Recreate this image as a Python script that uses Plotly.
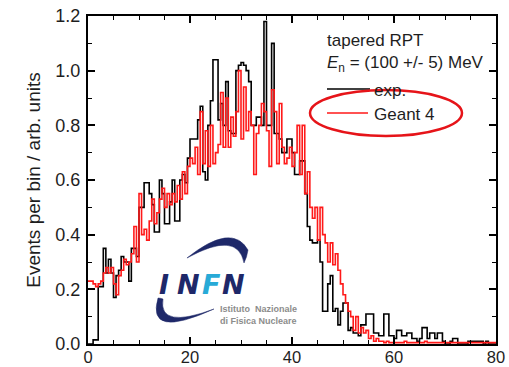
import plotly.graph_objects as go

BIN = 0.5
exp_values = [
    0.00, 0.00, 0.015, 0.015, 0.21, 0.21, 0.35, 0.26, 0.31, 0.26,   # 0-5
    0.17, 0.25, 0.27, 0.32, 0.30, 0.30, 0.23, 0.35, 0.35, 0.32,     # 5-10
    0.50, 0.50, 0.59, 0.59, 0.55, 0.51, 0.41, 0.41, 0.60, 0.55,     # 10-15
    0.44, 0.44, 0.52, 0.60, 0.45, 0.45, 0.60, 0.62, 0.59, 0.68,     # 15-20
    0.75, 0.75, 0.75, 0.82, 0.87, 0.63, 0.60, 0.80, 0.89, 1.04,     # 20-25
    1.04, 0.82, 0.88, 0.80, 0.96, 0.78, 0.77, 0.77, 1.00, 1.02,     # 25-30
    1.03, 1.02, 1.00, 0.96, 0.80, 0.80, 0.83, 0.83, 0.80, 1.18,     # 30-35
    0.80, 0.80, 1.10, 0.77, 0.77, 0.75, 0.70, 0.70, 0.75, 0.75,     # 35-40
    0.70, 0.62, 0.62, 0.67, 0.67, 0.55, 0.43, 0.38, 0.37, 0.37,     # 40-45
    0.38, 0.30, 0.12, 0.12, 0.22, 0.25, 0.12, 0.13, 0.07, 0.12,     # 45-50
    0.15, 0.15, 0.05, 0.06, 0.04, 0.04, 0.03, 0.07, 0.07, 0.11,     # 50-55
    0.11, 0.11, 0.04, 0.04, 0.03, 0.03, 0.11, 0.11, 0.03, 0.03,     # 55-60
    0.02, 0.05, 0.05, 0.03, 0.03, 0.04, 0.04, 0.02, 0.02, 0.01,     # 60-65
    0.02, 0.06, 0.06, 0.02, 0.04, 0.04, 0.02, 0.04, 0.04, 0.01,     # 65-70
    0.00, 0.00, 0.01, 0.02, 0.02, 0.00, 0.00, 0.00, 0.00, 0.01,     # 70-75
    0.01, 0.01, 0.01, 0.01, 0.01, 0.00, 0.01, 0.00, 0.00, 0.00,     # 75-80
]
geant_values = [
    0.23, 0.23, 0.22, 0.21, 0.22, 0.23, 0.26, 0.28, 0.26, 0.28,     # 0-5
    0.22, 0.18, 0.25, 0.27, 0.31, 0.29, 0.30, 0.33, 0.43, 0.30,     # 5-10
    0.55, 0.40, 0.42, 0.38, 0.45, 0.53, 0.44, 0.48, 0.53, 0.57,     # 10-15
    0.50, 0.55, 0.51, 0.55, 0.52, 0.58, 0.53, 0.63, 0.55, 0.65,     # 15-20
    0.68, 0.66, 0.72, 0.62, 0.85, 0.66, 0.78, 0.65, 0.80, 0.66,     # 20-25
    0.70, 0.73, 0.92, 0.72, 0.90, 0.72, 0.83, 0.76, 0.85, 1.00,     # 25-30
    0.75, 0.94, 0.78, 0.85, 0.80, 0.62, 0.77, 0.80, 0.88, 0.85,     # 30-35
    0.78, 0.65, 0.93, 0.85, 0.66, 0.88, 0.72, 0.66, 0.68, 0.72,     # 35-40
    0.65, 0.70, 0.80, 0.62, 0.80, 0.55, 0.63, 0.50, 0.46, 0.50,     # 40-45
    0.38, 0.50, 0.40, 0.37, 0.30, 0.37, 0.29, 0.33, 0.27, 0.22,     # 45-50
    0.18, 0.15, 0.12, 0.10, 0.05, 0.10, 0.04, 0.06, 0.04, 0.05,     # 50-55
    0.02, 0.03, 0.01, 0.02, 0.01, 0.01, 0.005, 0.01, 0.005, 0.005,  # 55-60
    0.005, 0.005, 0.005, 0.005, 0.01, 0.005, 0.005, 0.005, 0.005, 0.005,  # 60-65
    0.005, 0.005, 0.01, 0.005, 0.005, 0.005, 0.005, 0.005, 0.005, 0.005,  # 65-70
    0.005, 0.005, 0.005, 0.005, 0.005, 0.005, 0.005, 0.005, 0.005, 0.005,  # 70-75
    0.005, 0.005, 0.005, 0.005, 0.005, 0.005, 0.005, 0.005, 0.005, 0.005,  # 75-80
]
x_ticks = [0, 20, 40, 60, 80]
y_ticks = [0.0, 0.2, 0.4, 0.6, 0.8, 1.0, 1.2]

FONT = "Liberation Sans, Arial, sans-serif"
RED = "rgb(255,25,25)"
TXT = "#1e1e1e"


def edges(n):
    return [i * BIN for i in range(n + 1)]


fig = go.Figure()
fig.add_trace(go.Scatter(x=edges(len(exp_values)), y=exp_values + [exp_values[-1]],
                         mode="lines", line=dict(color="black", width=1.6, shape="hv"),
                         name="exp.", showlegend=False))
fig.add_trace(go.Scatter(x=edges(len(geant_values)), y=geant_values + [geant_values[-1]],
                         mode="lines", line=dict(color=RED, width=1.6, shape="hv"),
                         name="Geant 4", showlegend=False))

# pixel -> paper helpers for decorations
L, R, T, B = 88, 496, 16, 344


def px(x):
    return (x - L) / (R - L)


def py(y):
    return (B - y) / (B - T)


shapes = []
# legend lines
shapes.append(dict(type="line", xref="paper", yref="paper", x0=px(327), x1=px(370),
                   y0=py(89), y1=py(89), line=dict(color="black", width=1.6)))
shapes.append(dict(type="line", xref="paper", yref="paper", x0=px(327), x1=px(368),
                   y0=py(113), y1=py(113), line=dict(color=RED, width=1.6)))
# red ellipse
shapes.append(dict(type="circle", xref="paper", yref="paper", x0=px(310), x1=px(462),
                   y0=py(136), y1=py(90), line=dict(color="rgb(230,20,25)", width=2.5)))


def path(pts):
    s = "M {:.4f},{:.4f}".format(px(pts[0][0]), py(pts[0][1]))
    i = 1
    while i < len(pts):
        c, e = pts[i], pts[i + 1]
        s += " Q {:.4f},{:.4f} {:.4f},{:.4f}".format(px(c[0]), py(c[1]), px(e[0]), py(e[1]))
        i += 2
    return s + " Z"


NAVY = "rgb(30,40,105)"
# upper swoosh (crescent)
shapes.append(dict(type="path", xref="paper", yref="paper",
                   path=path([(187, 258), (232, 222), (248, 250), (247, 257), (244, 263),
                              (238, 230), (187, 258)]),
                   fillcolor=NAVY, line=dict(color=NAVY, width=0.5)))
# lower swoosh (crescent)
shapes.append(dict(type="path", xref="paper", yref="paper",
                   path=path([(158, 298), (146, 340), (214, 309), (158, 330), (163, 299),
                              (160, 298), (158, 298)]),
                   fillcolor=NAVY, line=dict(color=NAVY, width=0.5)))

ann = []


def text(x, y, s, size, color=TXT, anchor="left", family=FONT, **kw):
    ann.append(dict(xref="paper", yref="paper", x=px(x), y=py(y), text=s, showarrow=False,
                    xanchor=anchor, yanchor="middle",
                    font=dict(size=size, color=color, family=family), **kw))


text(325, 41, "tapered RPT", 17)
text(325, 64, "<i>E</i><sub>n</sub> = (100 +/- 5) MeV", 17)
text(372, 90, "exp.", 17)
text(372, 114, "Geant 4", 17)

# INFN logo letters
logo_font = "DejaVu Sans, Liberation Sans, sans-serif"
for (xc, letter, col) in [(164, "I", NAVY), (188, "N", NAVY), (211, "F", "rgb(40,170,215)"), (233, "N", NAVY)]:
    text(xc, 284, "<b><i>" + letter + "</i></b>", 27, color=col, anchor="center", family=logo_font)
text(218, 309, "<b>Istituto  Nazionale</b>", 9, color="#8c8c8c")
text(218, 321, "<b>di Fisica Nucleare</b>", 9, color="#8c8c8c")

fig.update_layout(
    width=509, height=367,
    margin=dict(l=L, r=509 - R, t=T, b=367 - B),
    paper_bgcolor="white", plot_bgcolor="white",
    showlegend=False,
    shapes=shapes, annotations=ann,
    font=dict(family=FONT, color=TXT, size=17),
)
fig.update_xaxes(range=[0, 80], tickvals=x_ticks, ticktext=[str(v) for v in x_ticks],
                 ticks="inside", ticklen=7, tickwidth=1.5, tickcolor="black",
                 showline=True, linewidth=2, linecolor="black", mirror="ticks",
                 showgrid=False, zeroline=False, tickfont=dict(size=16.5, color=TXT),
                 ticklabelstandoff=-3, automargin=False,
                 minor=dict(dtick=5, ticks="inside", ticklen=4, tickwidth=1.3, tickcolor="black"))
fig.update_yaxes(range=[0, 1.2], tickvals=y_ticks, ticktext=["{:.1f}".format(v) for v in y_ticks],
                 ticks="inside", ticklen=7, tickwidth=1.5, tickcolor="black",
                 showline=True, linewidth=2, linecolor="black", mirror="ticks",
                 showgrid=False, zeroline=False, tickfont=dict(size=18, color=TXT),
                 ticklabelstandoff=2, automargin=False,
                 title=dict(text="Events per bin / arb. units", font=dict(size=19, color=TXT), standoff=10),
                 minor=dict(dtick=0.1, ticks="inside", ticklen=4, tickwidth=1.3, tickcolor="black"))

fig.write_html("out.html")
